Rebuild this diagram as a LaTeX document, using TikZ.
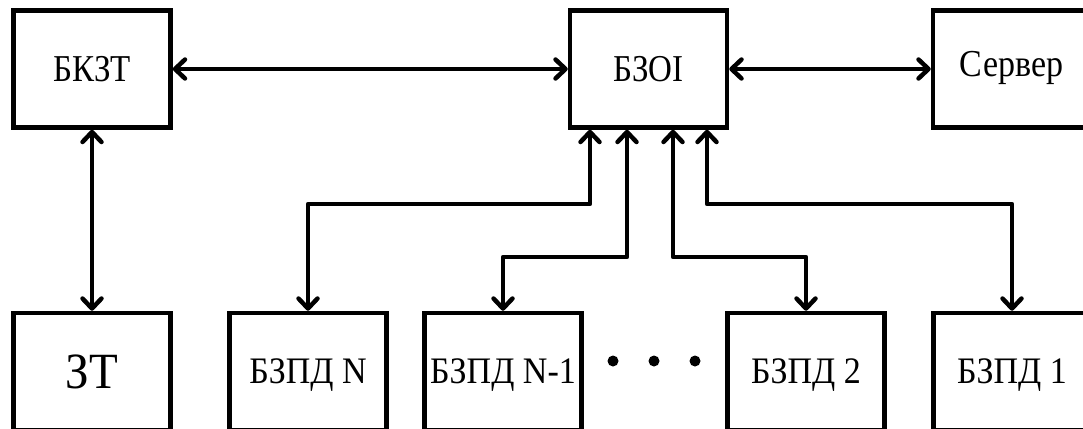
\documentclass[tikz,border=0pt]{standalone}
\usepackage{fontspec}
\setmainfont{Liberation Serif}
\usetikzlibrary{arrows.meta}
\begin{document}
\begin{tikzpicture}[x=1pt,y=-1pt,
  blk/.style={draw,line width=4.5pt,line join=miter,minimum width=157pt,minimum height=117pt,inner sep=0pt,text depth=0pt,font=\fontsize{33}{37}\selectfont},
  lbl/.style={font=\fontsize{34}{38}\selectfont},
  lnk/.style={line width=4.5pt,line join=round,{Straight Barb[length=10pt,width=19pt,line width=4.5pt,line cap=round,line join=round]}-{Straight Barb[length=10pt,width=19pt,line width=4.5pt,line cap=round,line join=round]}},
  dotmark/.style={circle,fill,inner sep=0pt,minimum size=11pt}]
\useasboundingbox (0,0) rectangle (1083,428);
\node[blk] (bkzt) at (92,69) {\scalebox{1}[1.15]{БКЗТ}};
\node[blk] (bzoi) at (648.5,69) {\scalebox{1}[1.15]{БЗОI}};
\node[blk,lbl] (srv) at (1011.5,69) {\raisebox{10pt}{\scalebox{1}[1.12]{Сервер}}};
\node[blk,font=\fontsize{47}{51}\selectfont] (zt) at (92,371.5) {\scalebox{1}[1.08]{ЗТ}};
\node[blk,lbl] (bn) at (308,371.5) {\scalebox{1}[1.1]{БЗПД N}};
\node[blk,lbl] (bn1) at (503,371.5) {\scalebox{1}[1.1]{БЗПД N-1}};
\node[blk,lbl] (b2) at (806,371.5) {\scalebox{1}[1.1]{БЗПД 2}};
\node[blk,lbl] (b1) at (1012,371.5) {\scalebox{1}[1.1]{БЗПД 1}};
\node[dotmark] (d1) at (613,361) {};
\node[dotmark] (d2) at (654,361) {};
\node[dotmark] (d3) at (695,361) {};
\draw[lnk] (bkzt.east) -- (bkzt.east -| bzoi.west);
\draw[lnk] (bzoi.east) -- (bzoi.east -| srv.west);
\draw[lnk] (bkzt.south) -- (bkzt.south |- zt.north);
\draw[lnk] ([xshift=-58.5pt]bzoi.south) |- (308,204) -- (bn.north);
\draw[lnk] ([xshift=-21.5pt]bzoi.south) |- (503,257) -- (bn1.north);
\draw[lnk] ([xshift=24.5pt]bzoi.south) |- (806,257) -- (b2.north);
\draw[lnk] ([xshift=58.5pt]bzoi.south) |- (1012,204) -- (b1.north);
\end{tikzpicture}
\end{document}
